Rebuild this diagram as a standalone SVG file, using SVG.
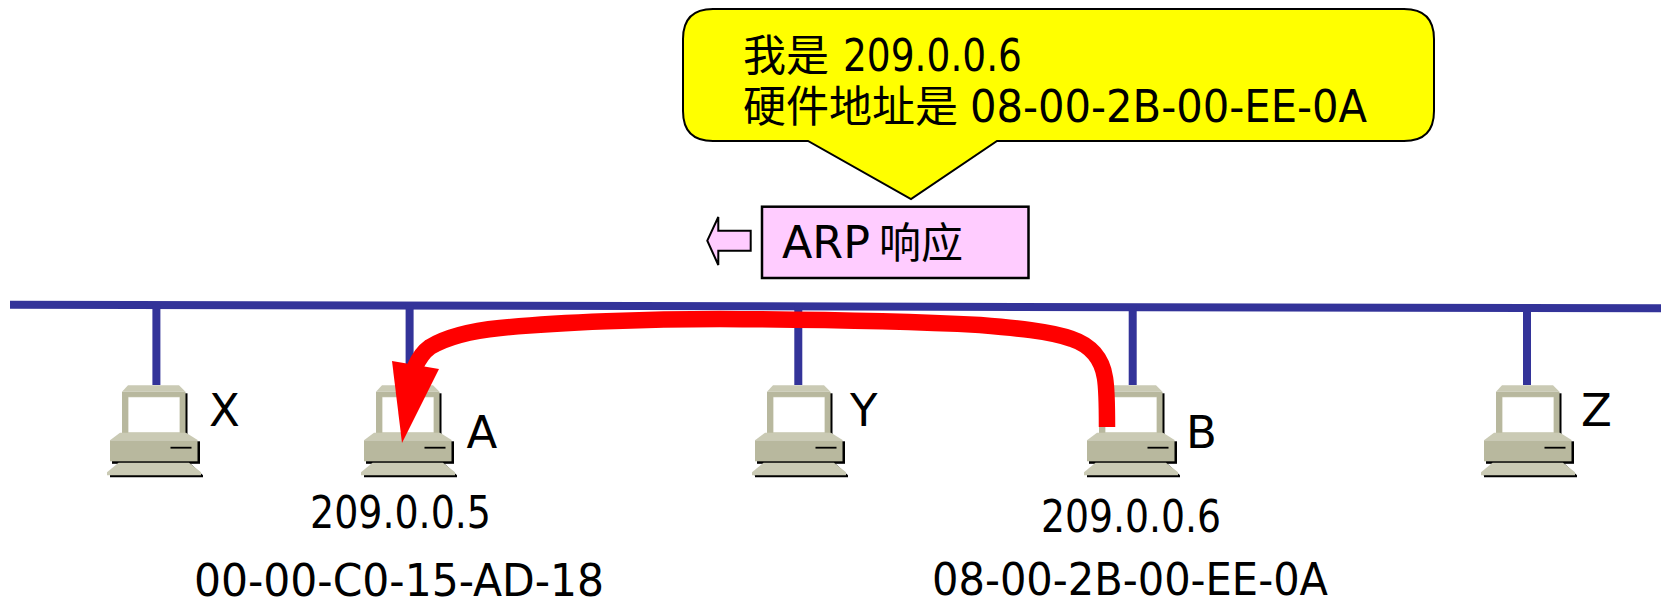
<svg xmlns="http://www.w3.org/2000/svg" width="1661" height="600" viewBox="0 0 1661 600">
<style>
text{font-family:"DejaVu Sans","Noto Sans CJK SC",sans-serif;font-size:45px;fill:#000}
.c{font-stretch:condensed}
.cjk{font-family:"Noto Sans CJK SC",sans-serif;font-size:43px}
.bus{stroke:#333399;stroke-width:8;fill:none}
.m{fill:#B8B89E}.l{fill:#CACAB4}.s{fill:#000}.w{fill:#fff}
</style>
<defs>
<g id="pc">
<rect class="s" x="65" y="8" width="2.5" height="42"/>
<polygon class="l" points="2,6.500 8,0 59,0 65.500,6.500"/>
<rect class="m" x="2" y="6.500" width="63.500" height="45"/>
<rect class="l" x="8" y="11.500" width="52" height="36"/>
<rect class="w" x="8.500" y="12" width="51" height="35"/>
<polygon class="l" points="-10,55 0,47.500 66,47.500 78,55"/>
<rect class="s" x="-8" y="56" width="88" height="22.500"/>
<rect class="m" x="-10" y="55" width="87.500" height="21"/>
<rect class="s" x="50.500" y="61.500" width="21" height="1.800"/>
<polygon class="s" points="-10,90 -2,78 70,78 83,90 83,92 -10,92"/>
<polygon class="l" points="-13,87 -1.500,77.500 69,77.500 81,87 81,90 -13,90"/>
</g>
</defs>
<g id="connectors">
<path class="bus" d="M10,304.700 L1661,308.300"/>
<path class="bus" d="M156.400,305 V385"/>
<path class="bus" d="M409.600,305 V385"/>
<path class="bus" d="M798.300,306 V385"/>
<path class="bus" d="M1132.700,307 V385"/>
<path class="bus" d="M1527,308 V385"/>
</g>
<g id="node-x"><use href="#pc" x="120" y="385.300"/><text x="209" y="425.700">X</text></g>
<g id="node-a"><use href="#pc" x="374" y="385.300"/><text x="466.500" y="448">A</text><text class="c" x="310" y="528" textLength="181" lengthAdjust="spacingAndGlyphs">209.0.0.5</text><text class="c" x="194" y="596" textLength="410" lengthAdjust="spacingAndGlyphs">00-00-C0-15-AD-18</text></g>
<g id="node-y"><use href="#pc" x="765" y="385.300"/><text x="850" y="425.700">Y</text></g>
<g id="node-b"><use href="#pc" x="1097" y="385.300"/><text x="1186" y="448">B</text><text class="c" x="1041" y="531.700" textLength="180" lengthAdjust="spacingAndGlyphs">209.0.0.6</text><text class="c" x="932" y="595" textLength="396" lengthAdjust="spacingAndGlyphs">08-00-2B-00-EE-0A</text></g>
<g id="node-z"><use href="#pc" x="1494" y="385.300"/><text x="1581" y="425.700">Z</text></g>
<g id="flow">
<path d="M1107,427 C1107,405 1107,390 1105,378 C1102,358 1090,345 1072,339 C1050,331 1015,328 980,325 C900,321 800,319.500 720,319 C650,319 560,322 500,328 C470,331 445,338 430,347 C423,352 419,358 415,367" fill="none" stroke="#f00" stroke-width="16.500"/>
<polygon points="392,361 439,369 402,443" fill="#f00"/>
</g>
<g id="callout">
<path d="M713,9 H1404 Q1434,9 1434,39 V111 Q1434,141 1404,141 H997 L911,199 L808,141 H713 Q683,141 683,111 V39 Q683,9 713,9 Z" fill="#ff0" stroke="#000" stroke-width="2"/>
<text x="743" y="70.700"><tspan class="cjk">我是 </tspan><tspan class="c" x="843" textLength="179" lengthAdjust="spacingAndGlyphs">209.0.0.6</tspan></text>
<text x="743" y="121.700"><tspan class="cjk">硬件地址是 </tspan><tspan class="c" x="970" textLength="397" lengthAdjust="spacingAndGlyphs">08-00-2B-00-EE-0A</tspan></text>
</g>
<g id="arp-box">
<rect x="762" y="206.700" width="266.500" height="71.300" fill="#FFCCFF" stroke="#000" stroke-width="2.500"/>
<text y="257.700"><tspan class="c" x="782" textLength="88" lengthAdjust="spacingAndGlyphs">ARP</tspan> <tspan class="cjk" x="879" style="font-size:42px">响应</tspan></text>
</g>
<g id="arp-arrow">
<polygon points="707.300,240.700 718.300,217 718.300,230.700 750.700,230.700 750.700,250.700 718.300,250.700 718.300,265" fill="#FFCCFF" stroke="#000" stroke-width="2"/>
</g>
</svg>
